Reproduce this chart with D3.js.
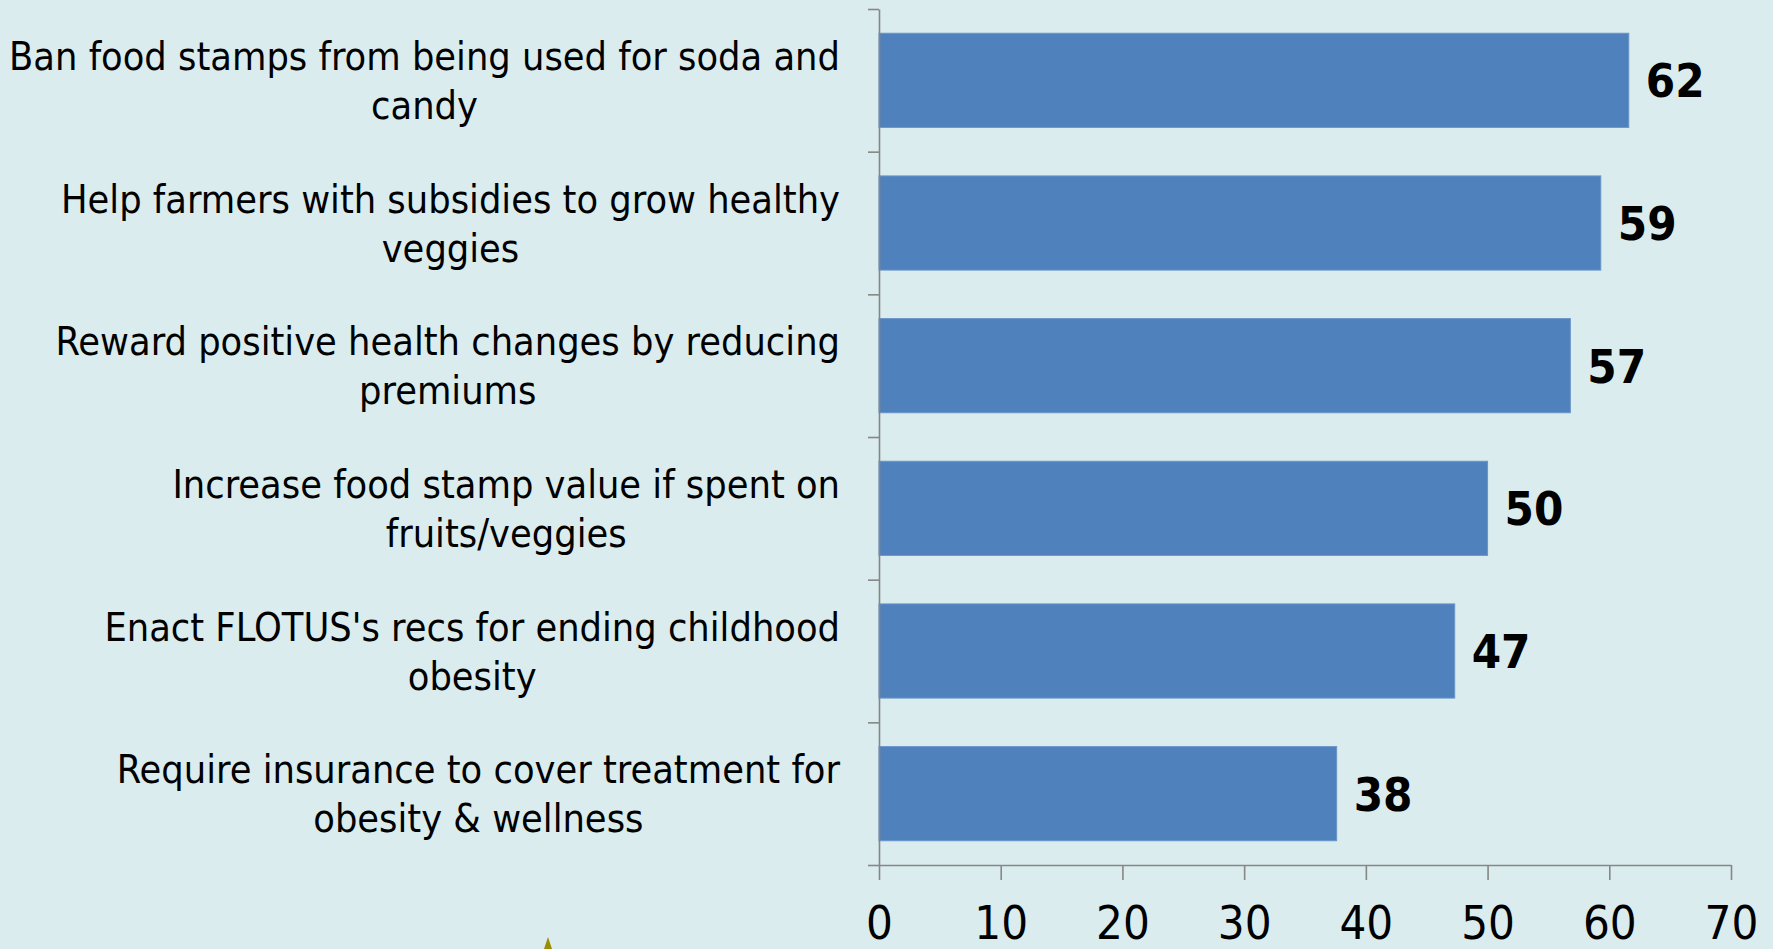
<!DOCTYPE html>
<html>
<head>
<meta charset="utf-8">
<script src="https://cdn.jsdelivr.net/npm/d3@7"></script>
<style>
  html, body { margin: 0; padding: 0; background: #DAECEE; overflow: hidden; }
  svg { display: block; }
</style>
</head>
<body>
<script>
const categories = [
  "Ban food stamps from being used for soda and\ncandy",
  "Help farmers with subsidies to grow healthy\nveggies",
  "Reward positive health changes by reducing\npremiums",
  "Increase food stamp value if spent on\nfruits/veggies",
  "Enact FLOTUS's recs for ending childhood\nobesity",
  "Require insurance to cover treatment for\nobesity & wellness"
];
const values = [61.6, 59.3, 56.8, 50.0, 47.3, 37.6];
const xTicks = [0, 10, 20, 30, 40, 50, 60, 70];

const W = 1773, H = 949;
const svg = d3.select("body").append("svg").attr("width", W).attr("height", H);
svg.append("rect").attr("width", W).attr("height", H).attr("fill", "#DAECEE");

const x0 = 879, x1 = 1731, yTop = 9, yBot = 865;
const x = d3.scaleLinear().domain([0, 70]).range([x0, x1]);
const y = d3.scaleBand().domain(categories).range([yTop, yBot]).paddingInner(0.34).paddingOuter(0.17);
const yb = d3.scaleLinear().domain([0, categories.length]).range([yTop, yBot]);

const font = "'DejaVu Sans Condensed', 'DejaVu Sans', sans-serif";

// bars
svg.append("g").selectAll("rect").data(values).join("rect")
  .attr("x", x(0))
  .attr("y", (d, i) => y(categories[i]))
  .attr("width", d => x(d) - x(0))
  .attr("height", y.bandwidth())
  .attr("fill", "#4F81BD")
  .attr("stroke", "#6A95C9")
  .attr("stroke-width", 1);

// value labels
const fmt = d3.format(".0f");
svg.append("g").selectAll("text").data(values).join("text")
  .attr("x", d => x(d) + 17)
  .attr("y", (d, i) => y(categories[i]) + y.bandwidth() / 2)
  .attr("dy", "0.36em")
  .attr("font-family", font)
  .attr("font-weight", "bold")
  .attr("font-size", 47)
  .attr("fill", "#000")
  .text(d => fmt(d));

// y axis with ticks at band boundaries
const gy = svg.append("g").attr("transform", `translate(${x0},0)`)
  .call(d3.axisLeft(yb).ticks(categories.length).tickSize(11).tickSizeOuter(0).tickFormat(""));
gy.selectAll("path, line").attr("stroke", "#868686").attr("stroke-width", 1.6);

// x axis
const gx = svg.append("g").attr("transform", `translate(0,${yBot})`)
  .call(d3.axisBottom(x).tickValues(xTicks).tickSize(15).tickSizeOuter(0).tickPadding(0));
gx.selectAll("path, line").attr("stroke", "#868686").attr("stroke-width", 1.6);
gx.selectAll("text")
  .attr("font-family", font)
  .attr("font-size", 47)
  .attr("fill", "#000")
  .attr("dy", null)
  .attr("y", 74);

// category labels (right-aligned block, centered lines)
const labelRight = 840, lineH = 49;
const lg = svg.append("g");
categories.forEach((c, i) => {
  const lines = c.split("\n");
  const cy = y(categories[i]) + y.bandwidth() / 2;
  const g = lg.append("g");
  const texts = lines.map((ln, j) => g.append("text")
    .attr("font-family", font)
    .attr("font-size", 39.3)
    .attr("fill", "#000")
    .attr("text-anchor", "middle")
    .attr("y", cy - (lines.length - 1) * lineH / 2 + 14 + j * lineH)
    .text(ln));
  const maxW = d3.max(texts, t => t.node().getComputedTextLength());
  texts.forEach(t => t.attr("x", labelRight - maxW / 2));
});

// small decorative olive triangle at bottom
svg.append("path")
  .attr("d", "M548,937 L552,949 L544,949 Z")
  .attr("fill", "#9C8C00");
</script>
</body>
</html>
